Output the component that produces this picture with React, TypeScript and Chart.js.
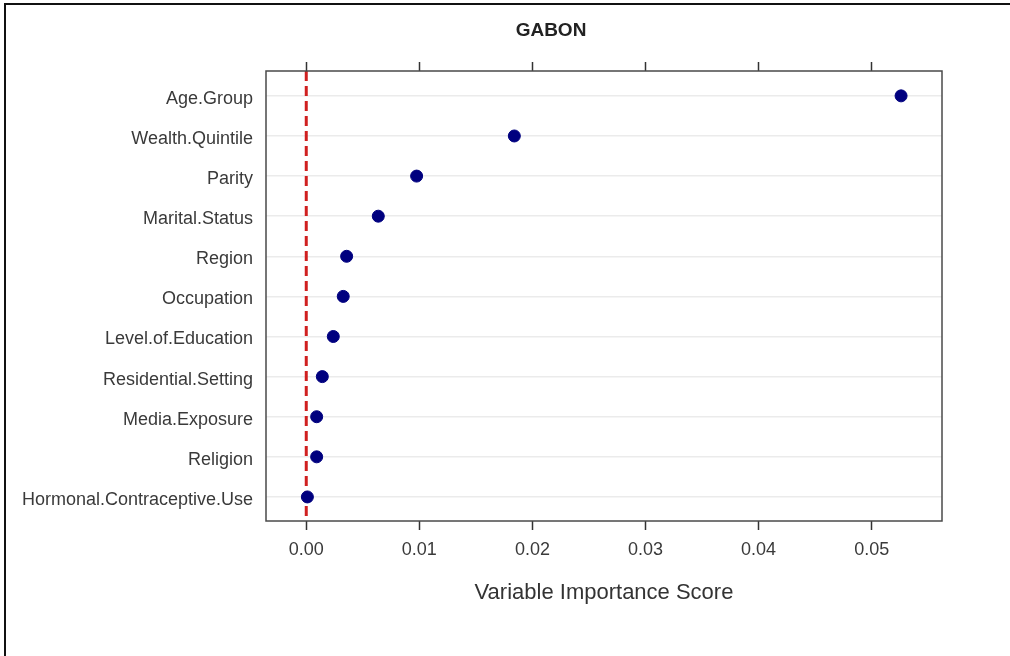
import React, { useEffect, useRef } from "react";
import { Chart, registerables } from "chart.js";

Chart.register(...registerables);

const categories = [
  "Age.Group",
  "Wealth.Quintile",
  "Parity",
  "Marital.Status",
  "Region",
  "Occupation",
  "Level.of.Education",
  "Residential.Setting",
  "Media.Exposure",
  "Religion",
  "Hormonal.Contraceptive.Use",
];
const importance = [0.0526, 0.0184, 0.00976, 0.00637, 0.00357, 0.00327, 0.00239, 0.00142, 0.00092, 0.00092, 0.0001];
const xTicks = [0, 0.01, 0.02, 0.03, 0.04, 0.05];
const refLineX = 0;
const titleText = "GABON";
const xTitle = "Variable Importance Score";

const X_MIN = -0.00356;
const X_MAX = 0.05622;
const Y_MIN = -0.62;
const Y_MAX = 10.6;
const FONT = "'Liberation Sans', Arial, sans-serif";

export default function App() {
  const ref = useRef<HTMLCanvasElement | null>(null);

  useEffect(() => {
    if (!ref.current) return;
    const boxPlugin = {
      id: "boxAndTitle",
      afterDatasetsDraw(chart: any) {
        const { ctx, chartArea } = chart;
        ctx.save();
        ctx.strokeStyle = "#4a4a4a";
        ctx.lineWidth = 1.5;
        ctx.strokeRect(chartArea.left, chartArea.top, chartArea.right - chartArea.left, chartArea.bottom - chartArea.top);
        ctx.restore();
      },
      afterDraw(chart: any) {
        const { ctx } = chart;
        ctx.save();
        ctx.fillStyle = "#222";
        ctx.font = `bold 19px ${FONT}`;
        ctx.textAlign = "center";
        ctx.textBaseline = "middle";
        ctx.fillText(titleText, 551, 31);
        ctx.restore();
      },
    };

    const setTicks = (scale: any) => {
      scale.ticks = xTicks.map((v) => ({ value: v }));
    };

    const chart = new Chart(ref.current, {
      type: "scatter",
      data: {
        datasets: [
          {
            type: "scatter",
            data: importance.map((v, i) => ({ x: v, y: i })),
            backgroundColor: "#00007f",
            borderColor: "#00007f",
            pointRadius: 6,
            pointHoverRadius: 6,
            order: 1,
          },
          {
            type: "line",
            data: [
              { x: refLineX, y: Y_MIN },
              { x: refLineX, y: Y_MAX },
            ],
            borderColor: "#d02020",
            borderWidth: 3,
            borderDash: [10, 5],
            pointRadius: 0,
            fill: false,
            order: 2,
          } as any,
        ],
      },
      options: {
        animation: false,
        responsive: false,
        devicePixelRatio: 1,
        layout: { padding: { left: 0, right: 68, top: 0, bottom: 0 } },
        plugins: {
          legend: { display: false },
          tooltip: { enabled: false },
          title: { display: false },
        },
        scales: {
          x: {
            type: "linear",
            position: "bottom",
            min: X_MIN,
            max: X_MAX,
            afterBuildTicks: setTicks,
            afterFit: (s: any) => {
              s.height = 135;
            },
            ticks: {
              callback: (v: any) => Number(v).toFixed(2),
              font: { family: FONT, size: 18 },
              color: "#3a3a3a",
              padding: 9,
              maxRotation: 0,
              autoSkip: false,
            },
            grid: {
              display: true,
              drawOnChartArea: false,
              drawTicks: true,
              tickLength: 9,
              tickColor: "#333",
              tickWidth: 1.5,
            },
            border: { display: false },
            title: {
              display: true,
              text: xTitle,
              font: { family: FONT, size: 22 },
              color: "#333",
              padding: { top: 4, bottom: 50 },
            },
          },
          x2: {
            type: "linear",
            position: "top",
            min: X_MIN,
            max: X_MAX,
            afterBuildTicks: setTicks,
            afterFit: (s: any) => {
              s.height = 71;
            },
            ticks: { display: false },
            grid: {
              display: true,
              drawOnChartArea: false,
              drawTicks: true,
              tickLength: 9,
              tickColor: "#333",
              tickWidth: 1.5,
            },
            border: { display: false },
          },
          y: {
            type: "linear",
            position: "left",
            min: Y_MIN,
            max: Y_MAX,
            reverse: true,
            afterBuildTicks: (s: any) => {
              s.ticks = categories.map((_, i) => ({ value: i }));
            },
            afterFit: (s: any) => {
              s.width = 266;
            },
            ticks: {
              callback: (v: any) => categories[Math.round(Number(v))] ?? "",
              font: { family: FONT, size: 18 },
              color: "#3a3a3a",
              padding: 13,
              labelOffset: 3,
              autoSkip: false,
            },
            grid: {
              display: true,
              drawOnChartArea: true,
              drawTicks: false,
              color: "#ebebeb",
              lineWidth: 1.5,
            },
            border: { display: false },
          },
        },
      },
      plugins: [boxPlugin],
    });
    return () => chart.destroy();
  }, []);

  return (
    <div style={{ position: "absolute", left: 0, top: 0, width: 1010, height: 656, background: "#fff", overflow: "hidden" }}>
      <canvas ref={ref} width={1010} height={656} style={{ position: "absolute", left: 0, top: 0, width: 1010, height: 656 }} />
      <div
        style={{
          position: "absolute",
          left: 4,
          top: 3,
          right: 0,
          bottom: 0,
          borderTop: "2px solid #111",
          borderLeft: "2px solid #111",
          pointerEvents: "none",
        }}
      />
    </div>
  );
}
